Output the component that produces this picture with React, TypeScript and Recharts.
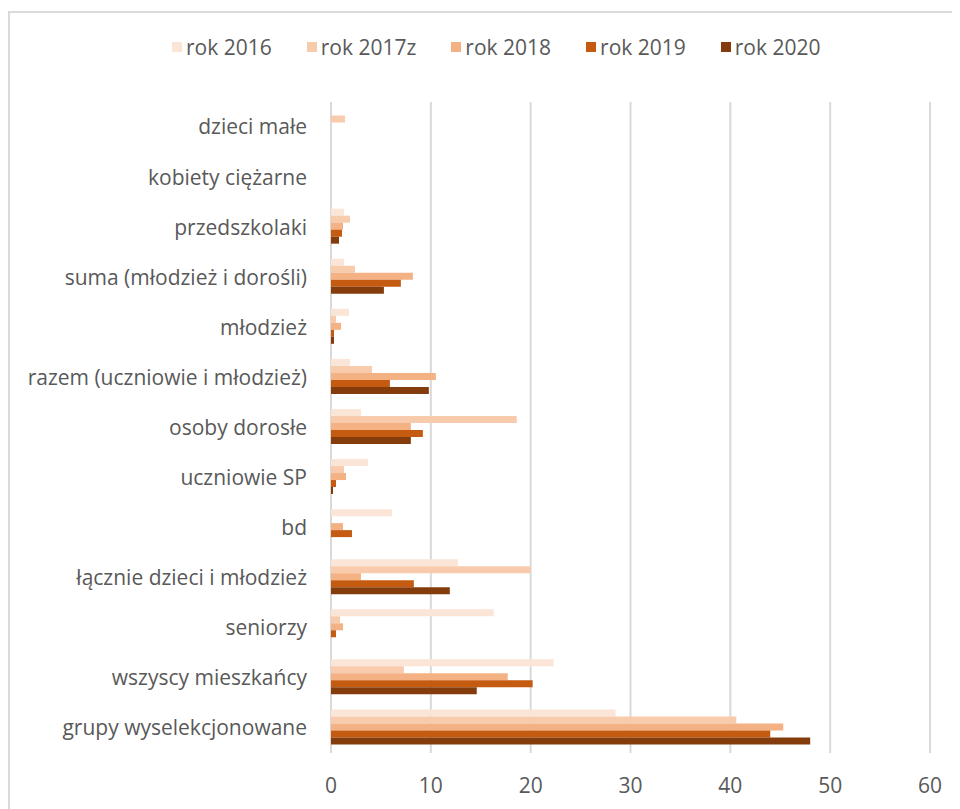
import { Bar, BarChart, CartesianGrid, XAxis, YAxis } from "recharts";

const categories = [
  "dzieci małe",
  "kobiety ciężarne",
  "przedszkolaki",
  "suma (młodzież i dorośli)",
  "młodzież",
  "razem (uczniowie i młodzież)",
  "osoby dorosłe",
  "uczniowie SP",
  "bd",
  "łącznie dzieci i młodzież",
  "seniorzy",
  "wszyscy mieszkańcy",
  "grupy wyselekcjonowane",
];

const rok2016 = [0, 0, 1.3, 1.3, 1.8, 1.9, 3.0, 3.7, 6.1, 12.7, 16.3, 22.3, 28.5];
const rok2017z = [1.4, 0, 1.9, 2.4, 0.5, 4.1, 18.6, 1.3, 0, 20.0, 0.9, 7.3, 40.6];
const rok2018 = [0, 0, 1.2, 8.2, 1.0, 10.5, 8.0, 1.5, 1.2, 3.0, 1.2, 17.7, 45.3];
const rok2019 = [0, 0, 1.1, 7.0, 0.3, 5.9, 9.2, 0.5, 2.1, 8.3, 0.5, 20.2, 44.0];
const rok2020 = [0, 0, 0.8, 5.3, 0.3, 9.8, 8.0, 0.2, 0, 11.9, 0, 14.6, 48.0];

const seriesNames = ["rok 2016", "rok 2017z", "rok 2018", "rok 2019", "rok 2020"];
const colors = ["#FBE5D6", "#F8CBAD", "#F4B183", "#C55A11", "#843C0C"];
const xTicks = [0, 10, 20, 30, 40, 50, 60];

const data = categories.map((name, i) => ({
  name,
  s0: rok2016[i],
  s1: rok2017z[i],
  s2: rok2018[i],
  s3: rok2019[i],
  s4: rok2020[i],
}));

const FONT = "'Open Sans', sans-serif";
const TEXT = "#595959";

// legend drawn as plain html so it doesn't eat into the plot's top margin
function LegendBox() {
  return (
    <div
      style={{
        position: "absolute",
        left: 162,
        top: 20,
        display: "flex",
        gap: 35,
        fontFamily: FONT,
        fontSize: 21,
        color: TEXT,
        whiteSpace: "nowrap",
      }}
    >
      {seriesNames.map((n, i) => (
        <div key={n} style={{ display: "flex", alignItems: "center", gap: 4 }}>
          <span style={{ width: 10, height: 10, background: colors[i], display: "inline-block" }} />
          <span>{n}</span>
        </div>
      ))}
    </div>
  );
}

export default function App() {
  return (
    <div
      style={{
        position: "relative",
        marginTop: 3,
        width: 950,
        height: 796,
        borderTop: "2px solid #d9d9d9",
        borderLeft: "2px solid #d9d9d9",
        background: "#fff",
      }}
    >
      <LegendBox />
      <BarChart
        width={950}
        height={796}
        data={data}
        layout="vertical"
        margin={{ top: 89, right: 30, left: 0, bottom: 0 }}
        barCategoryGap="13%"
        barGap={0}
      >
        <CartesianGrid horizontal={false} stroke="#d9d9d9" strokeWidth={2} />
        <XAxis
          type="number"
          domain={[0, 60]}
          ticks={xTicks}
          axisLine={false}
          tickLine={false}
          tickSize={0}
          tickMargin={25}
          height={56}
          tick={{ fill: TEXT, fontSize: 21, fontFamily: FONT }}
        />
        <YAxis
          type="category"
          dataKey="name"
          width={321}
          axisLine={false}
          tickLine={false}
          tickSize={0}
          tickMargin={24}
          interval={0}
          tick={{ fill: TEXT, fontSize: 21, fontFamily: FONT }}
        />
        {["s0", "s1", "s2", "s3", "s4"].map((k, i) => (
          <Bar key={k} dataKey={k} name={seriesNames[i]} fill={colors[i]} isAnimationActive={false} />
        ))}
      </BarChart>
    </div>
  );
}
